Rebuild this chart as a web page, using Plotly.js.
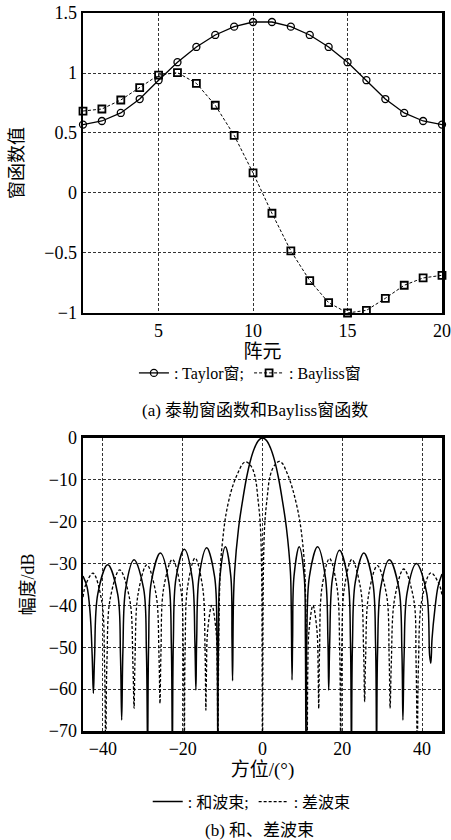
<!DOCTYPE html>
<html><head><meta charset="utf-8">
<script src="https://cdn.plot.ly/plotly-3.0.1.min.js"></script>
<style>body{margin:0;background:#fff}#chart{width:451px;height:840px}</style>
</head><body><div id="chart"></div>
<script>
// ---- (a) window functions ----
const elements = [1,2,3,4,5,6,7,8,9,10,11,12,13,14,15,16,17,18,19,20];
const taylorWin = [0.57,0.60,0.667,0.783,0.94,1.09,1.217,1.317,1.386,1.425,1.425,1.386,1.317,1.217,1.09,0.94,0.783,0.667,0.60,0.57];
const baylissWin = [0.683,0.70,0.775,0.878,0.983,1.003,0.914,0.731,0.48,0.167,-0.169,-0.483,-0.73,-0.914,-1.0,-0.978,-0.878,-0.769,-0.708,-0.686];

// ---- (b) sum / difference beams ----
const sumAz = [-45,-44.0,-43.2,-42.7,-42.4,
 -42.1,-41.3,-38.8,-36.3,-35.6,-35.3,
 -35.0,-34.3,-32.2,-29.8,-29.1,-28.8,
 -28.55,-27.9,-25.6,-23.5,-22.85,-22.6,
 -22.35,-21.7,-19.6,-17.6,-16.95,-16.7,
 -16.5,-15.9,-14.0,-12.0,-11.4,-11.2,
 -11.05,-10.65,-9.3,-7.95,-7.65,-7.5,
 -7.3,-7.0,-6.0,-5.0,-4.0,-3.0,-2.0,-1.0,0,
 1.0,2.0,3.0,4.0,5.0,6.0,7.0,7.2,7.4,
 7.55,7.9,9.2,10.45,10.75,10.9,
 11.1,11.75,13.8,15.75,16.4,16.6,
 16.85,17.5,19.3,21.4,22.05,22.3,
 22.55,23.25,25.4,27.65,28.35,28.6,
 28.85,29.6,31.8,34.2,34.95,35.2,
 35.5,36.25,38.6,41.15,41.9,42.2,
 42.5,43.2,44.0,45];
const sumDb = [-33.0,-35.5,-42,-52,-61,
 -52.3,-37.3,-30.3,-37.3,-52.3,-67.4,
 -51,-36,-29.1,-36,-51,-75,
 -49.5,-34.5,-27.5,-34.5,-49.5,-75,
 -48.6,-33.6,-26.6,-33.6,-48.6,-60.2,
 -48.2,-33.2,-26.2,-33.2,-48.2,-75,
 -48,-33,-26,-33,-48,-58,
 -40,-32,-21.5,-15,-9.5,-5.3,-2.4,-0.6,0,
 -0.6,-2.4,-5.3,-9.5,-15,-21.5,-32,-40,-57.8,
 -48,-33,-26,-33,-48,-75,
 -48.2,-33.2,-26,-33.2,-48.2,-60.2,
 -48.8,-33.8,-26.8,-33.8,-48.8,-75,
 -49.5,-34.5,-27.5,-34.5,-49.5,-75,
 -51,-36,-29.1,-36,-51,-67.4,
 -52,-37,-30,-37,-52,-53.8,
 -48,-41,-35.5,-32.5];

const diffAz = [-45,-44.3,-42.5,-40.3,-39.6,-39.3,
 -39.0,-38.2,-35.8,-33.3,-32.5,-32.2,
 -31.95,-31.2,-29.0,-26.7,-25.95,-25.7,
 -25.45,-24.8,-22.6,-20.5,-19.85,-19.6,
 -19.4,-18.8,-16.9,-15.0,-14.4,-14.2,
 -14.05,-13.75,-12.7,-11.65,-11.35,-11.2,
 -11.0,-10.8,-10.5,-10.0,-9.2,-8.0,-7.0,-6.0,-5.0,-4.2,-3.2,-2.4,-1.7,-1.2,-0.6,-0.25,0,
 0.25,0.6,1.2,1.7,2.4,3.2,4.2,5.0,6.0,7.0,8.0,9.2,10.0,10.5,10.8,11.0,11.2,
 11.35,11.65,12.65,13.65,13.95,14.1,
 14.3,14.9,16.8,18.7,19.35,19.6,
 19.85,20.5,22.4,24.6,25.35,25.6,
 25.85,26.6,28.8,31.1,31.75,32.0,
 32.3,33.1,35.4,37.9,38.5,38.8,
 39.1,39.9,42.2,44.3,45];
const diffDb = [-38,-35,-32.3,-39,-54,-75,
 -53.5,-38.5,-31.5,-38.5,-53.5,-64.6,
 -52.3,-37.3,-30.3,-37.3,-52.3,-63.4,
 -51,-36,-29,-36,-51,-75,
 -50.7,-35.7,-28.7,-35.7,-50.7,-65,
 -56,-46,-40,-46,-56,-75,
 -52,-38,-30,-24.5,-18.5,-13.2,-10.2,-8,-6.2,-5.7,-6.3,-7.6,-10,-14,-20,-30,-75,
 -30,-20,-14,-10,-7.6,-6.3,-5.6,-6.1,-8,-10.5,-13.8,-19,-24.5,-30,-38,-52,-75,
 -56,-46,-40,-46,-56,-64.6,
 -50.8,-35.8,-28.8,-35.8,-50.8,-75,
 -51,-36,-29,-36,-51,-63,
 -52.5,-37.5,-30.5,-37.5,-52.5,-64.6,
 -53.5,-38.5,-31.3,-38.5,-53.5,-75,
 -54,-39,-32.2,-35,-37.5];

const topXTicks = [5,10,15,20];
const topYTicks = [-1,-0.5,0,0.5,1,1.5];
const botXTicks = [-40,-20,0,20,40];
const botYTicks = [0,-10,-20,-30,-40,-50,-60,-70];

const FONT = "'Liberation Serif', 'Noto Sans CJK SC', serif";

const traces = [
  {x: elements, y: taylorWin, xaxis:'x', yaxis:'y', type:'scatter', mode:'lines+markers',
   name:': Taylor窗;', legend:'legend', cliponaxis:false,
   line:{color:'#000', width:1.3},
   marker:{symbol:'circle-open', size:7, color:'#000', line:{width:1.3, color:'#000'}}},
  {x: elements, y: baylissWin, xaxis:'x', yaxis:'y', type:'scatter', mode:'lines+markers',
   name:': Bayliss窗', legend:'legend', cliponaxis:false,
   line:{color:'#000', width:1, dash:'3px,2px'},
   marker:{symbol:'square-open', size:7, color:'#000', line:{width:1.8, color:'#000'}}},
  {x: sumAz, y: sumDb, xaxis:'x2', yaxis:'y2', type:'scatter', mode:'lines',
   name:': 和波束;', legend:'legend2',
   line:{color:'#000', width:1.5, shape:'spline', smoothing:1}},
  {x: diffAz, y: diffDb, xaxis:'x2', yaxis:'y2', type:'scatter', mode:'lines',
   name:': 差波束', legend:'legend2',
   line:{color:'#000', width:1.3, dash:'3px,2px', shape:'spline', smoothing:1}}
];

const axCommon = {
  showgrid:true, gridcolor:'#333', gridwidth:1, griddash:'3px,2px',
  showline:true, linecolor:'#000', linewidth:2.5, mirror:true,
  zeroline:false, ticks:'', tickfont:{family:FONT, size:18, color:'#000'}
};

const layout = {
  width:451, height:840,
  margin:{l:83, r:9, t:13, b:109},
  paper_bgcolor:'#fff', plot_bgcolor:'#fff',
  font:{family:FONT, color:'#000'},
  xaxis: Object.assign({}, axCommon, {domain:[0,1], anchor:'y', range:[1,20], tickvals:topXTicks,
    title:{text:'阵元', font:{family:FONT, size:19}, standoff:0}}),
  yaxis: Object.assign({}, axCommon, {domain:[0.5822,1], anchor:'x', range:[-1,1.5], tickvals:topYTicks,
    title:{text:'窗函数值', font:{family:FONT, size:18}, standoff:16}}),
  xaxis2: Object.assign({}, axCommon, {domain:[0,1], anchor:'y2', range:[-45,45], tickvals:botXTicks,
    title:{text:'方位/(°)', font:{family:FONT, size:19}, standoff:2}}),
  yaxis2: Object.assign({}, axCommon, {domain:[0,0.4081], anchor:'x2', range:[-70,0], tickvals:botYTicks,
    title:{text:'幅度/dB', font:{family:FONT, size:18}, standoff:10}}),
  showlegend:true,
  legend:{orientation:'h', x:0.465, xanchor:'center', y:0.4986, yanchor:'middle',
    font:{family:FONT, size:16, color:'#000'}, bgcolor:'rgba(0,0,0,0)', itemwidth:30, tracegroupgap:0},
  legend2:{orientation:'h', x:0.47, xanchor:'center', y:-0.0985, yanchor:'middle',
    font:{family:FONT, size:16, color:'#000'}, bgcolor:'rgba(0,0,0,0)', itemwidth:30, tracegroupgap:0},
  annotations:[
    {text:'(a) 泰勒窗函数和Bayliss窗函数', xref:'paper', yref:'paper', x:0.479, y:0.447,
     xanchor:'center', yanchor:'middle', showarrow:false, font:{family:FONT, size:17, color:'#000'}},
    {text:'(b) 和、差波束', xref:'paper', yref:'paper', x:0.493, y:-0.138,
     xanchor:'center', yanchor:'middle', showarrow:false, font:{family:FONT, size:17, color:'#000'}}
  ]
};

Plotly.newPlot('chart', traces, layout, {staticPlot:true, displayModeBar:false});
</script>
</body></html>
